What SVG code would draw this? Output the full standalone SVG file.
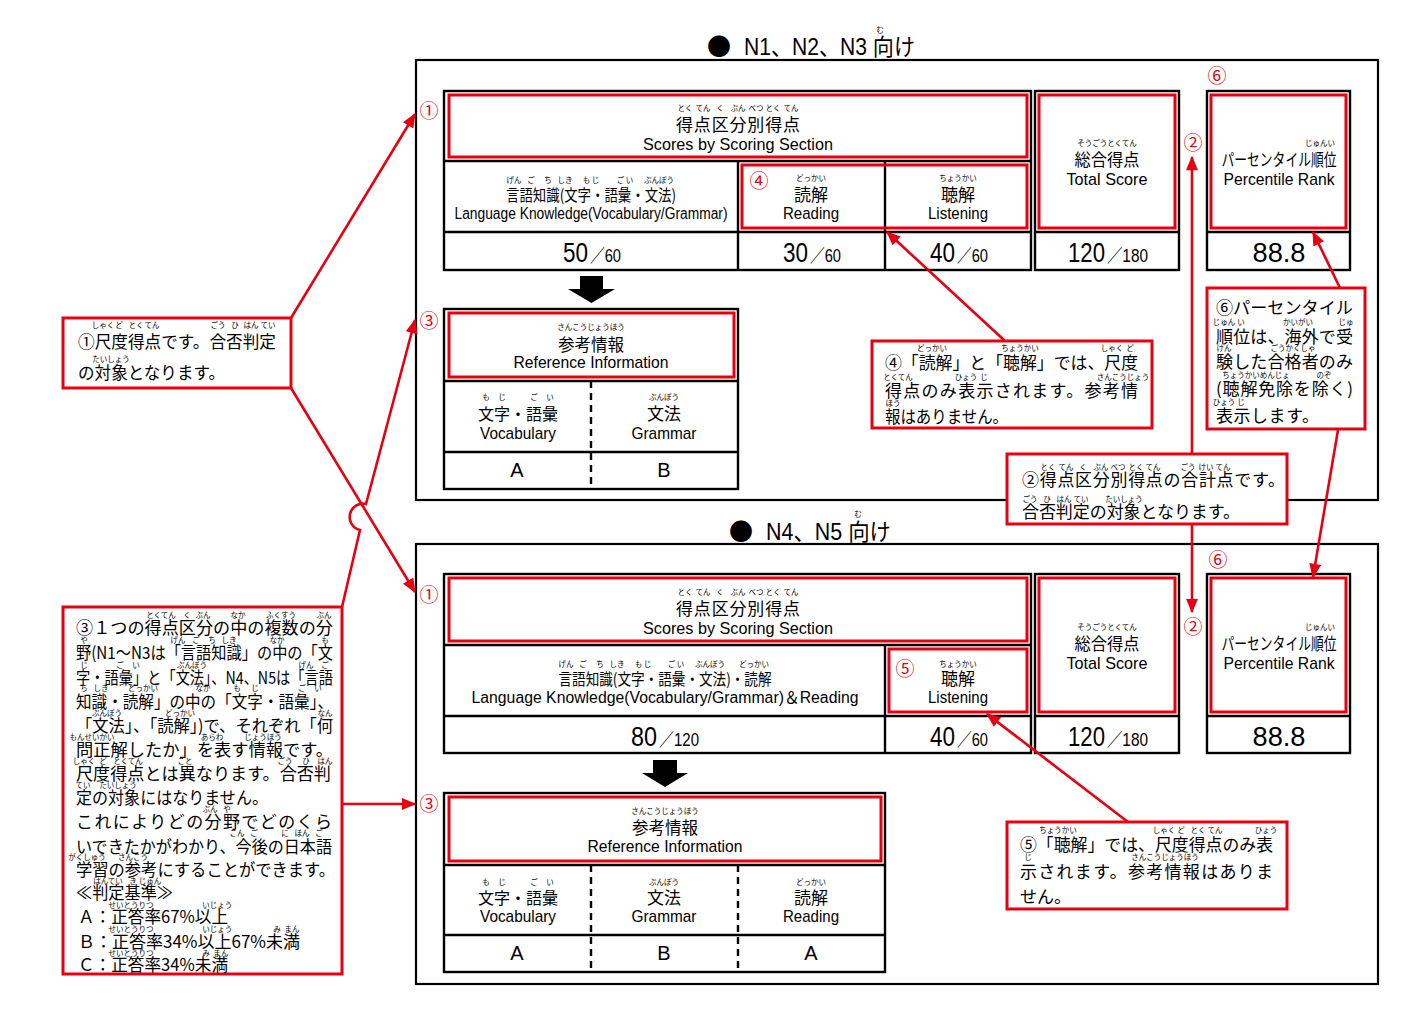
<svg xmlns="http://www.w3.org/2000/svg" width="1416" height="1028" viewBox="0 0 1416 1028">
<style>
.j{font-family:"Noto Sans CJK JP",sans-serif;fill:#000}
.e{font-family:"Liberation Sans","Noto Sans CJK JP",sans-serif;fill:#000}
.m{text-anchor:middle}
.r{font-family:"Noto Sans CJK JP",sans-serif;font-size:7.5px;text-anchor:middle;fill:#000}
.n{font-family:"Noto Sans CJK JP",sans-serif;font-size:19px;fill:#e60012;text-anchor:middle}
.cl{font-family:"Noto Sans CJK JP","Liberation Sans",sans-serif;font-size:17px;fill:#000}
.frame{fill:none;stroke:#000;stroke-width:2.2}
.cell{fill:#fff;stroke:#000;stroke-width:2.4}
.ln{stroke:#000;stroke-width:2.4;fill:none}
.dash{stroke:#000;stroke-width:2.4;stroke-dasharray:7 5;fill:none}
.red{fill:none;stroke:#e60012;stroke-width:3}
.box{fill:#fff;stroke:#e60012;stroke-width:3}
.con{fill:none;stroke:#e60012;stroke-width:2.6}
</style>
<defs>
<marker id="ah" viewBox="0 0 12 10" refX="11" refY="5" markerWidth="15" markerHeight="12" markerUnits="userSpaceOnUse" orient="auto"><path d="M0,0 L12,5 L0,10 z" fill="#e60012"/></marker>
</defs>
<rect width="1416" height="1028" fill="#fff"/>

<!-- ================= TOP SECTION ================= -->
<g id="title-top">
<text x="719" y="55" class="j m" font-size="24">●</text>
<text x="744" y="55" class="e" font-size="23" textLength="171" lengthAdjust="spacingAndGlyphs">N1、N2、N3 向け</text>
<text x="880" y="33" class="r">む</text>
</g>
<rect id="frame-top" x="416" y="60" width="962" height="440" class="frame"/>

<g id="scores-top">
<rect x="444" y="91" width="587" height="179" class="cell"/>
<line x1="444" y1="161" x2="1031" y2="161" class="ln"/>
<line x1="444" y1="232" x2="1031" y2="232" class="ln"/>
<line x1="738" y1="161" x2="738" y2="270" class="ln"/>
<line x1="885" y1="161" x2="885" y2="270" class="ln"/>
<rect x="449" y="95" width="578" height="62" class="red"/>
<rect x="742" y="165" width="285" height="63" class="red"/>
<text y="111" class="r"><tspan x="685">とく</tspan><tspan x="703">てん</tspan><tspan x="720">く</tspan><tspan x="738">ぶん</tspan><tspan x="756">べつ</tspan><tspan x="773">とく</tspan><tspan x="791">てん</tspan></text>
<text x="738" y="131" class="j m" font-size="17" textLength="124" lengthAdjust="spacing">得点区分別得点</text>
<text x="738" y="150" class="e m" font-size="17" textLength="190" lengthAdjust="spacingAndGlyphs">Scores by Scoring Section</text>
<text y="183" class="r"><tspan x="514">げん</tspan><tspan x="531">ご</tspan><tspan x="548">ち</tspan><tspan x="565">しき</tspan><tspan x="591">も じ</tspan><tspan x="625">ご い</tspan><tspan x="659">ぶんぽう</tspan></text>
<text x="591" y="201" class="j m" font-size="16" textLength="170" lengthAdjust="spacingAndGlyphs">言語知識(文字・語彙・文法)</text>
<text x="591" y="219" class="e m" font-size="16" textLength="273" lengthAdjust="spacingAndGlyphs">Language Knowledge(Vocabulary/Grammar)</text>
<text x="811" y="181" class="r">どっかい</text>
<text x="811" y="201" class="j m" font-size="17">読解</text>
<text x="811" y="219" class="e m" font-size="17" textLength="56" lengthAdjust="spacingAndGlyphs">Reading</text>
<text x="958" y="181" class="r">ちょうかい</text>
<text x="958" y="201" class="j m" font-size="17">聴解</text>
<text x="958" y="219" class="e m" font-size="17" textLength="60" lengthAdjust="spacingAndGlyphs">Listening</text>
<text x="563" y="262" class="e" font-size="28" textLength="25" lengthAdjust="spacingAndGlyphs">50</text>
<text x="590" y="262" class="e" font-size="18" textLength="31" lengthAdjust="spacingAndGlyphs">／60</text>
<text x="783" y="262" class="e" font-size="28" textLength="25" lengthAdjust="spacingAndGlyphs">30</text>
<text x="810" y="262" class="e" font-size="18" textLength="31" lengthAdjust="spacingAndGlyphs">／60</text>
<text x="930" y="262" class="e" font-size="28" textLength="25" lengthAdjust="spacingAndGlyphs">40</text>
<text x="957" y="262" class="e" font-size="18" textLength="31" lengthAdjust="spacingAndGlyphs">／60</text>
</g>

<g id="total-top">
<rect x="1035" y="91" width="144" height="179" class="cell"/>
<line x1="1035" y1="232" x2="1179" y2="232" class="ln"/>
<rect x="1039" y="95" width="136" height="133" class="red"/>
<text x="1107" y="146" class="r">そうごうとくてん</text>
<text x="1107" y="166" class="j m" font-size="17" textLength="65" lengthAdjust="spacingAndGlyphs">総合得点</text>
<text x="1107" y="185" class="e m" font-size="17" textLength="81" lengthAdjust="spacingAndGlyphs">Total Score</text>
<text x="1068" y="262" class="e" font-size="28" textLength="37" lengthAdjust="spacingAndGlyphs">120</text>
<text x="1107" y="262" class="e" font-size="18" textLength="41" lengthAdjust="spacingAndGlyphs">／180</text>
</g>

<g id="percentile-top">
<rect x="1207" y="91" width="143" height="179" class="cell"/>
<line x1="1207" y1="232" x2="1350" y2="232" class="ln"/>
<rect x="1211" y="95" width="135" height="133" class="red"/>
<text x="1320" y="146" class="r">じゅんい</text>
<text x="1279" y="166" class="j m" font-size="17" textLength="115" lengthAdjust="spacingAndGlyphs">パーセンタイル順位</text>
<text x="1279" y="185" class="e m" font-size="17" textLength="111" lengthAdjust="spacingAndGlyphs">Percentile Rank</text>
<text x="1279" y="262" class="e m" font-size="27" textLength="53" lengthAdjust="spacingAndGlyphs">88.8</text>
</g>

<polygon id="arrow-top" points="580,276 603,276 603,289 615,289 591.5,303 568,289 580,289" fill="#000"/>

<g id="reference-top">
<rect x="444" y="309" width="294" height="180" class="cell"/>
<line x1="444" y1="381" x2="738" y2="381" class="ln"/>
<line x1="444" y1="452" x2="738" y2="452" class="ln"/>
<line x1="591" y1="381" x2="591" y2="489" class="dash"/>
<rect x="449" y="313" width="285" height="64" class="red"/>
<text x="591" y="330" class="r">さんこうじょうほう</text>
<text x="591" y="351" class="j m" font-size="17" textLength="66" lengthAdjust="spacingAndGlyphs">参考情報</text>
<text x="591" y="368" class="e m" font-size="17" textLength="155" lengthAdjust="spacingAndGlyphs">Reference Information</text>
<text y="400" class="r"><tspan x="486">も</tspan><tspan x="502">じ</tspan><tspan x="534">ご</tspan><tspan x="550">い</tspan></text>
<text x="518" y="420" class="j m" font-size="16" textLength="80" lengthAdjust="spacingAndGlyphs">文字・語彙</text>
<text x="518" y="439" class="e m" font-size="17" textLength="76" lengthAdjust="spacingAndGlyphs">Vocabulary</text>
<text x="664" y="400" class="r">ぶんぽう</text>
<text x="664" y="420" class="j m" font-size="17">文法</text>
<text x="664" y="439" class="e m" font-size="17" textLength="65" lengthAdjust="spacingAndGlyphs">Grammar</text>
<text x="517" y="477" class="e m" font-size="20">A</text>
<text x="664" y="477" class="e m" font-size="20">B</text>
</g>

<g id="labels-top">
<text x="429" y="118" class="n">①</text>
<text x="429" y="328" class="n">③</text>
<text x="759" y="188" class="n">④</text>
<text x="1193" y="150" class="n">②</text>
<text x="1217" y="83" class="n">⑥</text>
</g>

<!-- ================= BOTTOM SECTION ================= -->
<g id="title-bottom">
<text x="741" y="540" class="j m" font-size="24">●</text>
<text x="766" y="540" class="e" font-size="23" textLength="125" lengthAdjust="spacingAndGlyphs">N4、N5 向け</text>
<text x="858" y="517" class="r">む</text>
</g>
<rect id="frame-bottom" x="416" y="544" width="962" height="440" class="frame"/>

<g id="scores-bottom">
<rect x="444" y="574" width="587" height="179" class="cell"/>
<line x1="444" y1="645" x2="1031" y2="645" class="ln"/>
<line x1="444" y1="716" x2="1031" y2="716" class="ln"/>
<line x1="885" y1="645" x2="885" y2="753" class="ln"/>
<rect x="449" y="578" width="578" height="63" class="red"/>
<rect x="889" y="649" width="138" height="63" class="red"/>
<text y="595" class="r"><tspan x="685">とく</tspan><tspan x="703">てん</tspan><tspan x="720">く</tspan><tspan x="738">ぶん</tspan><tspan x="756">べつ</tspan><tspan x="773">とく</tspan><tspan x="791">てん</tspan></text>
<text x="738" y="615" class="j m" font-size="17" textLength="124" lengthAdjust="spacing">得点区分別得点</text>
<text x="738" y="634" class="e m" font-size="17" textLength="190" lengthAdjust="spacingAndGlyphs">Scores by Scoring Section</text>
<text y="667" class="r"><tspan x="566">げん</tspan><tspan x="583">ご</tspan><tspan x="600">ち</tspan><tspan x="617">しき</tspan><tspan x="643">も じ</tspan><tspan x="676">ご い</tspan><tspan x="710">ぶんぽう</tspan><tspan x="754">どっかい</tspan></text>
<text x="665" y="685" class="j m" font-size="16" textLength="213" lengthAdjust="spacingAndGlyphs">言語知識(文字・語彙・文法)・読解</text>
<text x="665" y="703" class="e m" font-size="16" textLength="387" lengthAdjust="spacingAndGlyphs">Language Knowledge(Vocabulary/Grammar)＆Reading</text>
<text x="958" y="667" class="r">ちょうかい</text>
<text x="958" y="685" class="j m" font-size="17">聴解</text>
<text x="958" y="703" class="e m" font-size="17" textLength="60" lengthAdjust="spacingAndGlyphs">Listening</text>
<text x="631" y="746" class="e" font-size="28" textLength="26" lengthAdjust="spacingAndGlyphs">80</text>
<text x="659" y="746" class="e" font-size="18" textLength="40" lengthAdjust="spacingAndGlyphs">／120</text>
<text x="930" y="746" class="e" font-size="28" textLength="25" lengthAdjust="spacingAndGlyphs">40</text>
<text x="957" y="746" class="e" font-size="18" textLength="31" lengthAdjust="spacingAndGlyphs">／60</text>
</g>

<g id="total-bottom">
<rect x="1035" y="574" width="144" height="179" class="cell"/>
<line x1="1035" y1="716" x2="1179" y2="716" class="ln"/>
<rect x="1039" y="578" width="136" height="134" class="red"/>
<text x="1107" y="630" class="r">そうごうとくてん</text>
<text x="1107" y="650" class="j m" font-size="17" textLength="65" lengthAdjust="spacingAndGlyphs">総合得点</text>
<text x="1107" y="669" class="e m" font-size="17" textLength="81" lengthAdjust="spacingAndGlyphs">Total Score</text>
<text x="1068" y="746" class="e" font-size="28" textLength="37" lengthAdjust="spacingAndGlyphs">120</text>
<text x="1107" y="746" class="e" font-size="18" textLength="41" lengthAdjust="spacingAndGlyphs">／180</text>
</g>

<g id="percentile-bottom">
<rect x="1207" y="574" width="143" height="179" class="cell"/>
<line x1="1207" y1="716" x2="1350" y2="716" class="ln"/>
<rect x="1211" y="578" width="135" height="134" class="red"/>
<text x="1320" y="630" class="r">じゅんい</text>
<text x="1279" y="650" class="j m" font-size="17" textLength="115" lengthAdjust="spacingAndGlyphs">パーセンタイル順位</text>
<text x="1279" y="669" class="e m" font-size="17" textLength="111" lengthAdjust="spacingAndGlyphs">Percentile Rank</text>
<text x="1279" y="746" class="e m" font-size="27" textLength="53" lengthAdjust="spacingAndGlyphs">88.8</text>
</g>

<polygon id="arrow-bottom" points="653,760 677,760 677,773 688,773 665,787 642,773 653,773" fill="#000"/>

<g id="reference-bottom">
<rect x="444" y="793" width="441" height="179" class="cell"/>
<line x1="444" y1="865" x2="885" y2="865" class="ln"/>
<line x1="444" y1="935" x2="885" y2="935" class="ln"/>
<line x1="591" y1="865" x2="591" y2="972" class="dash"/>
<line x1="738" y1="865" x2="738" y2="972" class="dash"/>
<rect x="449" y="797" width="432" height="64" class="red"/>
<text x="665" y="814" class="r">さんこうじょうほう</text>
<text x="665" y="834" class="j m" font-size="17" textLength="66" lengthAdjust="spacingAndGlyphs">参考情報</text>
<text x="665" y="852" class="e m" font-size="17" textLength="155" lengthAdjust="spacingAndGlyphs">Reference Information</text>
<text y="885" class="r"><tspan x="486">も</tspan><tspan x="502">じ</tspan><tspan x="534">ご</tspan><tspan x="550">い</tspan><tspan x="664">ぶんぽう</tspan><tspan x="811">どっかい</tspan></text>
<text x="518" y="904" class="j m" font-size="16" textLength="80" lengthAdjust="spacingAndGlyphs">文字・語彙</text>
<text x="518" y="922" class="e m" font-size="17" textLength="76" lengthAdjust="spacingAndGlyphs">Vocabulary</text>
<text x="664" y="904" class="j m" font-size="17">文法</text>
<text x="664" y="922" class="e m" font-size="17" textLength="65" lengthAdjust="spacingAndGlyphs">Grammar</text>
<text x="811" y="904" class="j m" font-size="17">読解</text>
<text x="811" y="922" class="e m" font-size="17" textLength="56" lengthAdjust="spacingAndGlyphs">Reading</text>
<text x="517" y="960" class="e m" font-size="20">A</text>
<text x="664" y="960" class="e m" font-size="20">B</text>
<text x="811" y="960" class="e m" font-size="20">A</text>
</g>

<g id="labels-bottom">
<text x="429" y="602" class="n">①</text>
<text x="429" y="811" class="n">③</text>
<text x="905" y="676" class="n">⑤</text>
<text x="1193" y="634" class="n">②</text>
<text x="1218" y="567" class="n">⑥</text>
</g>

<!-- ================= CONNECTORS ================= -->
<g id="connectors">
<line x1="291" y1="318" x2="415" y2="114" class="con" marker-end="url(#ah)"/>
<line x1="291" y1="388" x2="415" y2="592" class="con" marker-end="url(#ah)"/>
<path d="M342,607 L360,530 A13 13 0 0 1 366,504 L415,320" class="con" marker-end="url(#ah)"/>
<line x1="342" y1="804" x2="415" y2="804" class="con" marker-end="url(#ah)"/>
<line x1="1005" y1="341" x2="887" y2="232" class="con" marker-end="url(#ah)"/>
<line x1="1192" y1="454" x2="1192" y2="157" class="con" marker-end="url(#ah)"/>
<line x1="1192" y1="525" x2="1192" y2="612" class="con" marker-end="url(#ah)"/>
<line x1="1340" y1="288" x2="1313" y2="232" class="con" marker-end="url(#ah)"/>
<line x1="1338" y1="430" x2="1313" y2="577" class="con" marker-end="url(#ah)"/>
<line x1="1128" y1="822" x2="987" y2="714" class="con" marker-end="url(#ah)"/>
</g>

<!-- ================= CALLOUTS ================= -->
<g id="callout-1">
<rect x="63" y="318" width="228" height="70" class="box"/>
<text y="328" class="r"><tspan x="103">しゃく</tspan><tspan x="119">ど</tspan><tspan x="136">とく</tspan><tspan x="152">てん</tspan><tspan x="218">ごう</tspan><tspan x="235">ひ</tspan><tspan x="251">はん</tspan><tspan x="268">てい</tspan></text>
<text x="78" y="348" class="cl" textLength="198" lengthAdjust="spacingAndGlyphs">①尺度得点です。合否判定</text>
<text x="111" y="362" class="r">たいしょう</text>
<text x="78" y="379" class="cl" textLength="147" lengthAdjust="spacingAndGlyphs">の対象となります。</text>
</g>

<g id="callout-4">
<rect x="872" y="341" width="280" height="87" class="box"/>
<text y="351" class="r"><tspan x="932">どっかい</tspan><tspan x="1020">ちょうかい</tspan><tspan x="1112">しゃく</tspan><tspan x="1130">ど</tspan></text>
<text x="885" y="369" class="cl" textLength="253" lengthAdjust="spacingAndGlyphs">④「読解」と「聴解」では、尺度</text>
<text y="380" class="r"><tspan x="898">とくてん</tspan><tspan x="966">ひょう</tspan><tspan x="984">じ</tspan><tspan x="1123">さんこうじょう</tspan></text>
<text x="885" y="397" class="cl" textLength="253" lengthAdjust="spacing">得点のみ表示されます。参考情</text>
<text x="893" y="406" class="r">ほう</text>
<text x="885" y="423" class="cl" textLength="123" lengthAdjust="spacingAndGlyphs">報はありません。</text>
</g>

<g id="callout-6">
<rect x="1207" y="288" width="158" height="141" class="box"/>
<text x="1216" y="314" class="cl" textLength="137" lengthAdjust="spacingAndGlyphs">⑥パーセンタイル</text>
<text y="325" class="r"><tspan x="1224">じゅん</tspan><tspan x="1241">い</tspan><tspan x="1298">かいがい</tspan><tspan x="1346">じゅ</tspan></text>
<text x="1216" y="343" class="cl" textLength="137" lengthAdjust="spacing">順位は、海外で受</text>
<text y="351" class="r"><tspan x="1224">けん</tspan><tspan x="1293">ごうかくしゃ</tspan></text>
<text x="1216" y="368" class="cl" textLength="137" lengthAdjust="spacing">験した合格者のみ</text>
<text y="378" class="r"><tspan x="1256">ちょうかいめんじょ</tspan><tspan x="1324">のぞ</tspan></text>
<text x="1216" y="395" class="cl" textLength="137" lengthAdjust="spacing">(聴解免除を除く)</text>
<text y="405" class="r"><tspan x="1224">ひょう</tspan><tspan x="1241">じ</tspan></text>
<text x="1216" y="422" class="cl" textLength="103" lengthAdjust="spacing">表示します。</text>
</g>

<g id="callout-2">
<rect x="1007" y="454" width="280" height="70" class="box"/>
<text y="470" class="r"><tspan x="1048">とく</tspan><tspan x="1066">てん</tspan><tspan x="1083">く</tspan><tspan x="1101">ぶん</tspan><tspan x="1118">べつ</tspan><tspan x="1136">とく</tspan><tspan x="1153">てん</tspan><tspan x="1188">ごう</tspan><tspan x="1206">けい</tspan><tspan x="1223">てん</tspan></text>
<text x="1022" y="486" class="cl" textLength="263" lengthAdjust="spacing">②得点区分別得点の合計点です。</text>
<text y="502" class="r"><tspan x="1030">ごう</tspan><tspan x="1047">ひ</tspan><tspan x="1064">はん</tspan><tspan x="1081">てい</tspan><tspan x="1124">たいしょう</tspan></text>
<text x="1022" y="518" class="cl" textLength="218" lengthAdjust="spacing">合否判定の対象となります。</text>
</g>

<g id="callout-5">
<rect x="1007" y="822" width="280" height="87" class="box"/>
<text y="833" class="r"><tspan x="1058">ちょうかい</tspan><tspan x="1164">しゃく</tspan><tspan x="1181">ど</tspan><tspan x="1198">とく</tspan><tspan x="1215">てん</tspan><tspan x="1266">ひょう</tspan></text>
<text x="1020" y="851" class="cl" textLength="253" lengthAdjust="spacingAndGlyphs">⑤「聴解」では、尺度得点のみ表</text>
<text y="860" class="r"><tspan x="1028">じ</tspan><tspan x="1165">さんこうじょうほう</tspan></text>
<text x="1020" y="878" class="cl" textLength="253" lengthAdjust="spacing">示されます。参考情報はありま</text>
<text x="1020" y="903" class="cl">せん。</text>
</g>

<g id="callout-3">
<rect x="63" y="607" width="279" height="367" class="box"/>
<text y="618" class="r"><tspan x="161">とくてん</tspan><tspan x="187">く</tspan><tspan x="203">ぶん</tspan><tspan x="238">なか</tspan><tspan x="281">ふくすう</tspan><tspan x="324">ぶん</tspan></text>
<text x="76" y="634" class="cl" textLength="257" lengthAdjust="spacingAndGlyphs">③１つの得点区分の中の複数の分</text>
<text y="643" class="r"><tspan x="84">や</tspan><tspan x="178">げん</tspan><tspan x="196">ご</tspan><tspan x="212">ち</tspan><tspan x="229">しき</tspan><tspan x="277">なか</tspan><tspan x="325">も</tspan></text>
<text x="76" y="659" class="cl" textLength="257" lengthAdjust="spacingAndGlyphs">野(N1～N3は「言語知識」の中の「文</text>
<text y="668" class="r"><tspan x="84">じ</tspan><tspan x="120">ご</tspan><tspan x="136">い</tspan><tspan x="192">ぶんぽう</tspan><tspan x="306">げん</tspan><tspan x="325">ご</tspan></text>
<text x="76" y="684" class="cl" textLength="257" lengthAdjust="spacingAndGlyphs">字・語彙」と「文法」、N4、N5は「言語</text>
<text y="691" class="r"><tspan x="84">ち</tspan><tspan x="101">しき</tspan><tspan x="143">どっかい</tspan><tspan x="203">なか</tspan><tspan x="237">も</tspan><tspan x="255">じ</tspan><tspan x="302">ご</tspan><tspan x="318">い</tspan></text>
<text x="76" y="708" class="cl" textLength="257" lengthAdjust="spacingAndGlyphs">知識・読解」の中の「文字・語彙」、</text>
<text y="716" class="r"><tspan x="107">ぶんぽう</tspan><tspan x="180">どっかい</tspan><tspan x="325">なん</tspan></text>
<text x="76" y="732" class="cl" textLength="257" lengthAdjust="spacingAndGlyphs">「文法」、「読解」)で、それぞれ「何</text>
<text y="740" class="r"><tspan x="92">もんせいかい</tspan><tspan x="212">あらわ</tspan><tspan x="263">じょうほう</tspan></text>
<text x="76" y="756" class="cl" textLength="257" lengthAdjust="spacingAndGlyphs">問正解したか」を表す情報です。</text>
<text y="764" class="r"><tspan x="84">しゃく</tspan><tspan x="103">ど</tspan><tspan x="128">とくてん</tspan><tspan x="185">こと</tspan><tspan x="285">ごう</tspan><tspan x="306">ひ</tspan><tspan x="325">はん</tspan></text>
<text x="76" y="780" class="cl" textLength="255" lengthAdjust="spacingAndGlyphs">尺度得点とは異なります。合否判</text>
<text y="788" class="r"><tspan x="83">てい</tspan><tspan x="118">たいしょう</tspan></text>
<text x="76" y="804" class="cl" textLength="192" lengthAdjust="spacingAndGlyphs">定の対象にはなりません。</text>
<text y="812" class="r"><tspan x="210">ぶん</tspan><tspan x="227">や</tspan></text>
<text x="76" y="828" class="cl" textLength="256" lengthAdjust="spacing">これによりどの分野でどのくら</text>
<text y="836" class="r"><tspan x="237">こん</tspan><tspan x="254">ご</tspan><tspan x="285">に</tspan><tspan x="302">ほん</tspan><tspan x="319">ご</tspan></text>
<text x="76" y="853" class="cl" textLength="256" lengthAdjust="spacingAndGlyphs">いできたかがわかり、今後の日本語</text>
<text y="860" class="r"><tspan x="87">がくしゅう</tspan><tspan x="133">さんこう</tspan></text>
<text x="76" y="876" class="cl" textLength="259" lengthAdjust="spacingAndGlyphs">学習の参考にすることができます。</text>
<text y="884" class="r"><tspan x="108">はんてい</tspan><tspan x="133">き</tspan><tspan x="150">じゅん</tspan></text>
<text x="76" y="899" class="cl" textLength="97" lengthAdjust="spacingAndGlyphs">≪判定基準≫</text>
<text y="908" class="r"><tspan x="131">せいとうりつ</tspan><tspan x="206">い</tspan><tspan x="221">じょう</tspan></text>
<text x="78" y="923" class="cl" textLength="150" lengthAdjust="spacingAndGlyphs">Ａ：正答率67%以上</text>
<text y="932" class="r"><tspan x="131">せいとうりつ</tspan><tspan x="206">い</tspan><tspan x="221">じょう</tspan><tspan x="277">み</tspan><tspan x="292">まん</tspan></text>
<text x="78" y="948" class="cl" textLength="222" lengthAdjust="spacingAndGlyphs">Ｂ：正答率34%以上67%未満</text>
<text y="956" class="r"><tspan x="131">せいとうりつ</tspan><tspan x="206">み</tspan><tspan x="221">まん</tspan></text>
<text x="78" y="971" class="cl" textLength="150" lengthAdjust="spacingAndGlyphs">Ｃ：正答率34%未満</text>
</g>
</svg>
